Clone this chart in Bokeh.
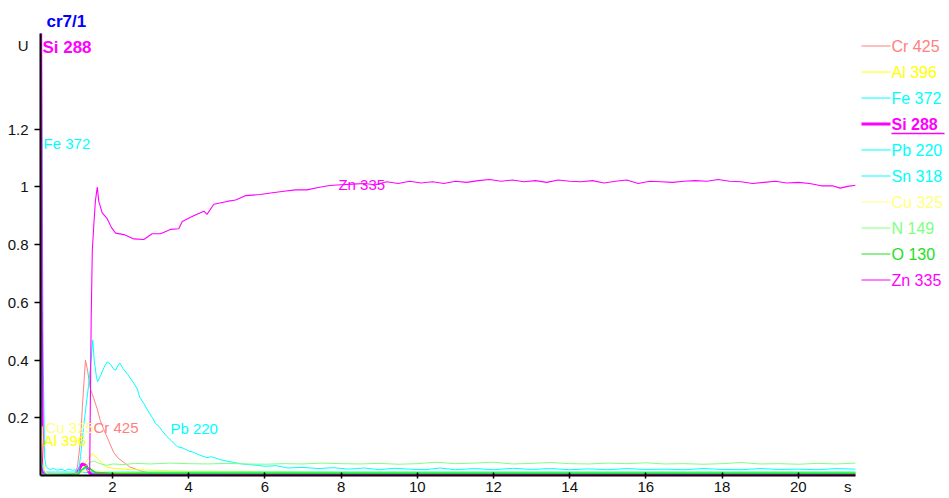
from bokeh.plotting import figure
from bokeh.models import Range1d, FixedTicker, Label
from bokeh.core.properties import value
from bokeh.embed import file_html
from bokeh.resources import INLINE

FONT = "Liberation Sans"

# ---- signal intensities (U) over time (s), one list of (t, u) pairs per line ----
cr_425 = [(0.11, 0.0), (0.5, 0.004), (1.0, 0.004), (1.08, 0.03), (1.16, 0.12), (1.21, 0.24),
          (1.25, 0.32), (1.29, 0.40), (1.35, 0.36), (1.42, 0.30), (1.50, 0.27), (1.60, 0.23),
          (1.68, 0.19), (1.77, 0.16), (1.90, 0.12), (2.03, 0.08), (2.15, 0.06), (2.30, 0.045),
          (2.45, 0.03), (2.65, 0.02), (2.85, 0.012), (3.10, 0.008), (4.0, 0.006), (8.0, 0.005),
          (14.0, 0.005), (21.5, 0.005)]

al_396 = [(0.11, 0.30), (0.14, 0.28), (0.17, 0.06), (0.22, 0.01), (0.5, 0.008), (1.0, 0.008),
          (1.2, 0.03), (1.35, 0.055), (1.47, 0.076), (1.6, 0.06), (1.72, 0.045), (1.82, 0.03),
          (2.0, 0.025), (2.5, 0.02), (4.0, 0.015), (8.0, 0.012), (14.0, 0.012), (21.5, 0.012)]

fe_372 = [(0.11, 0.9), (0.13, 1.6), (0.15, 1.15), (0.18, 0.4), (0.22, 0.06), (0.26, 0.03),
          (0.35, 0.02), (0.45, 0.025), (0.55, 0.018), (0.65, 0.022), (0.75, 0.017), (0.85, 0.022),
          (0.95, 0.018), (1.05, 0.02), (1.15, 0.012), (1.3, 0.01), (2.0, 0.01), (8.0, 0.01),
          (21.5, 0.01)]

si_288 = [(0.11, 1.9), (0.13, 0.6), (0.16, 0.02), (0.2, 0.003), (1.05, 0.003), (1.12, 0.02),
          (1.2, 0.04), (1.3, 0.035), (1.38, 0.012), (1.45, 0.003), (2.0, 0.003), (21.5, 0.003)]

pb_220 = [(0.11, 0.005), (1.10, 0.005), (1.16, 0.065), (1.25, 0.18), (1.37, 0.31), (1.44, 0.40),
          (1.48, 0.47), (1.52, 0.40), (1.58, 0.34), (1.61, 0.325), (1.70, 0.35), (1.78, 0.375),
          (1.86, 0.394), (1.95, 0.385), (2.02, 0.37), (2.08, 0.365), (2.14, 0.38), (2.19, 0.39),
          (2.28, 0.37), (2.40, 0.35), (2.56, 0.32), (2.65, 0.30), (2.72, 0.27), (2.82, 0.25),
          (2.95, 0.22), (3.05, 0.20), (3.13, 0.18), (3.22, 0.17), (3.30, 0.155), (3.43, 0.135),
          (3.55, 0.12), (3.70, 0.10), (3.85, 0.095), (4.00, 0.085), (4.13, 0.08), (4.30, 0.07),
          (4.48, 0.062), (4.60, 0.065), (4.83, 0.055), (5.00, 0.05), (5.20, 0.045), (5.40, 0.04),
          (5.6, 0.038), (5.8, 0.035), (6.0, 0.032), (6.3, 0.034), (6.6, 0.026), (7.0, 0.028),
          (7.4, 0.024), (7.8, 0.027), (8.2, 0.022), (8.6, 0.026), (9.0, 0.02), (9.4, 0.025),
          (9.8, 0.022), (10.2, 0.02), (10.6, 0.026), (11.0, 0.02), (11.5, 0.024), (12.0, 0.02),
          (12.5, 0.025), (13.0, 0.021), (13.5, 0.024), (14.0, 0.02), (14.5, 0.023), (15.0, 0.02),
          (15.5, 0.024), (16.0, 0.021), (16.5, 0.022), (17.0, 0.02), (17.5, 0.024), (18.0, 0.021),
          (18.5, 0.02), (19.0, 0.024), (19.5, 0.021), (20.0, 0.022), (20.5, 0.02), (21.0, 0.024),
          (21.5, 0.022)]

sn_318 = [(0.11, 0.5), (0.13, 0.05), (0.2, 0.012), (1.1, 0.012), (1.2, 0.02), (1.3, 0.025),
          (1.4, 0.015), (1.6, 0.012), (4.0, 0.012), (10.0, 0.012), (16.0, 0.012), (21.5, 0.012)]

cu_325 = [(0.11, 0.0), (0.15, 0.17), (0.2, 0.02), (0.3, 0.005), (1.0, 0.005), (1.3, 0.015),
          (1.5, 0.02), (1.8, 0.012), (3.0, 0.008), (21.5, 0.008)]

n_149 = [(0.11, 0.0), (1.1, 0.0), (1.2, 0.02), (1.3, 0.035), (1.4, 0.045), (1.5, 0.05),
         (1.6, 0.045), (1.7, 0.04), (1.85, 0.035), (2.0, 0.04), (2.3, 0.038), (2.6, 0.042),
         (3.0, 0.04), (3.5, 0.043), (4.0, 0.041), (4.5, 0.04), (5.0, 0.042), (5.5, 0.04),
         (6.0, 0.039), (6.5, 0.041), (7.0, 0.04), (7.5, 0.043), (8.0, 0.041), (8.5, 0.04),
         (9.0, 0.042), (9.5, 0.039), (10.0, 0.041), (10.5, 0.046), (11.0, 0.041), (11.5, 0.043),
         (12.0, 0.046), (12.5, 0.04), (13.0, 0.042), (13.5, 0.045), (14.0, 0.041), (14.5, 0.04),
         (15.0, 0.043), (15.5, 0.041), (16.0, 0.044), (16.5, 0.04), (17.0, 0.041), (17.5, 0.039),
         (18.0, 0.041), (18.5, 0.045), (19.0, 0.04), (19.5, 0.041), (20.0, 0.039), (20.5, 0.042),
         (21.0, 0.04), (21.5, 0.043)]

o_130 = [(0.11, 0.0), (1.1, 0.005), (1.2, 0.02), (1.3, 0.03), (1.4, 0.025), (1.55, 0.01),
         (2.0, 0.008), (6.0, 0.008), (12.0, 0.008), (21.5, 0.008)]

zn_335 = [(0.11, 0.0), (1.40, 0.0), (1.44, 0.54), (1.47, 0.78), (1.51, 0.87), (1.55, 0.95),
          (1.60, 1.00), (1.64, 0.95), (1.73, 0.91), (1.86, 0.89), (1.97, 0.86), (2.08, 0.84),
          (2.30, 0.835), (2.56, 0.82), (2.82, 0.818), (3.04, 0.838), (3.26, 0.838), (3.52, 0.853),
          (3.74, 0.855), (3.83, 0.88), (4.13, 0.90), (4.40, 0.916), (4.48, 0.905), (4.66, 0.94),
          (5.01, 0.95), (5.23, 0.955), (5.49, 0.97), (5.88, 0.974), (6.2, 0.98), (6.5, 0.985),
          (6.8, 0.99), (7.1, 0.99), (7.4, 0.998), (7.7, 1.005), (8.0, 1.008), (8.3, 1.01),
          (8.6, 1.012), (8.9, 1.008), (9.2, 1.018), (9.5, 1.012), (9.8, 1.02), (10.1, 1.014),
          (10.4, 1.018), (10.7, 1.012), (11.0, 1.02), (11.3, 1.016), (11.6, 1.022), (11.9, 1.026),
          (12.2, 1.02), (12.5, 1.024), (12.8, 1.018), (13.1, 1.022), (13.4, 1.016), (13.7, 1.024),
          (14.0, 1.02), (14.3, 1.018), (14.6, 1.022), (14.9, 1.014), (15.2, 1.02), (15.5, 1.024),
          (15.8, 1.012), (16.1, 1.02), (16.4, 1.018), (16.7, 1.016), (17.0, 1.02), (17.3, 1.022),
          (17.6, 1.02), (17.9, 1.026), (18.2, 1.02), (18.5, 1.018), (18.8, 1.012), (19.1, 1.016),
          (19.4, 1.02), (19.7, 1.014), (20.0, 1.016), (20.3, 1.012), (20.6, 1.004), (20.9, 1.004),
          (21.1, 0.996), (21.3, 1.002), (21.5, 1.006)]

# legend order, names and colours
series_names = ["Cr 425", "Al 396", "Fe 372", "Si 288", "Pb 220",
                "Sn 318", "Cu 325", "N 149", "O 130", "Zn 335"]
series_data = [cr_425, al_396, fe_372, si_288, pb_220, sn_318, cu_325, n_149, o_130, zn_335]
series_colors = ["#FF8080", "#FFFF00", "#00FFFF", "#FF00FF", "#00FFFF",
                 "#00FFFF", "#FFFF80", "#80FF80", "#22DD22", "#FF00FF"]
series_widths = [1, 1, 1, 3, 1, 1, 1, 1, 1.5, 1.1]

# on-curve name tags: (name, t, u)
curve_tags = [("Fe 372", 0.19, 1.15), ("Zn 335", 7.93, 1.009), ("Pb 220", 3.52, 0.163),
              ("Cu 325", 0.24, 0.166), ("Cr 425", 1.5, 0.166), ("Al 396", 0.19, 0.121)]

x_ticks = [2, 4, 6, 8, 10, 12, 14, 16, 18, 20]
y_ticks = [0.2, 0.4, 0.6, 0.8, 1, 1.2]
y_tick_labels = ["0.2", "0.4", "0.6", "0.8", "1", "1.2"]
x_unit, x_unit_at = "s", 21.3
y_unit, y_unit_at = "U", 1.49

T_MIN, T_MAX, U_MAX = 0.11, 21.5, 1.532

p = figure(width=949, height=498, output_backend="svg", toolbar_location=None,
           x_range=Range1d(T_MIN, 23.97), y_range=Range1d(0, U_MAX),
           min_border_left=40, min_border_right=0, min_border_top=33, min_border_bottom=23)
p.outline_line_color = None
p.grid.visible = False
p.background_fill_color = "white"
p.border_fill_color = "white"

# title in the top strip
p.title.text = "cr7/1"
p.title.align = "left"
p.title.offset = 6
p.title.standoff = 6
p.title.text_font = FONT
p.title.text_font_size = "17px"
p.title.text_font_style = "bold"
p.title.text_color = "#0000FF"

for ax in (p.xaxis[0], p.yaxis[0]):
    ax.axis_line_width = 2
    ax.axis_line_color = "black"
    ax.major_tick_in = 0
    ax.major_tick_out = 0
    ax.minor_tick_line_color = "black"
    ax.minor_tick_line_width = 1.5
    ax.major_label_text_font = FONT
    ax.major_label_text_font_size = "15px"
    ax.major_label_text_color = "#111111"

# labelled positions (numbers plus the unit) are major ticks; the tick marks are
# drawn as minor ticks so that the unit carries no mark
p.xaxis.ticker = FixedTicker(ticks=x_ticks + [x_unit_at], minor_ticks=x_ticks)
p.xaxis.major_label_overrides = {x_unit_at: x_unit}
p.xaxis.bounds = (T_MIN, T_MAX)
p.xaxis.minor_tick_in = 3
p.xaxis.minor_tick_out = 3
p.xaxis.major_label_standoff = -1

p.yaxis.ticker = FixedTicker(ticks=y_ticks + [y_unit_at], minor_ticks=y_ticks)
overrides = {t: s for t, s in zip(y_ticks, y_tick_labels)}
overrides[y_unit_at] = y_unit
p.yaxis.major_label_overrides = overrides
p.yaxis.minor_tick_in = 0
p.yaxis.minor_tick_out = 6
p.yaxis.major_label_standoff = 6

# element lines
for name, pts, col, w in zip(series_names, series_data, series_colors, series_widths):
    ts = [t for t, _ in pts]
    us = [u for _, u in pts]
    p.line(ts, us, line_color=col, line_width=w)

# tags on the curves
for name, t, u in curve_tags:
    col = series_colors[series_names.index(name)]
    p.add_layout(Label(x=t, y=u, text=name, text_color=col, text_font=FONT,
                       text_font_size="15px", text_baseline="middle"))

p.add_layout(Label(x=0.16, y=1.483, text="Si 288", text_color="#FF00FF", text_font=FONT,
                   text_font_size="17px", text_font_style="bold", text_baseline="middle"))

# key on the right: pixel x, one row per element (rows on half-pixel centres for crisp swatches)
p.extra_x_ranges = {"key": Range1d(40, 949)}
p.extra_y_ranges = {"key": Range1d(16.519, -0.4808)}
rows = list(range(len(series_names)))
p.segment(x0=[861] * len(rows), x1=[890] * len(rows), y0=rows, y1=rows,
          line_color=series_colors, line_width=[3 if w == 3 else 1 for w in series_widths],
          x_range_name="key", y_range_name="key")
plain = [i for i in rows if series_names[i] != "Si 288"]
p.text(x=[891] * len(plain), y=plain, text=[series_names[i] for i in plain],
       text_color=[series_colors[i] for i in plain], text_font=value(FONT),
       text_font_size="16px", text_baseline="middle",
       x_range_name="key", y_range_name="key")
si_row = series_names.index("Si 288")
p.text(x=[891], y=[si_row], text=["Si 288"], text_color="#FF00FF", text_font=value(FONT),
       text_font_size="16px", text_font_style="bold", text_baseline="middle",
       x_range_name="key", y_range_name="key")
p.segment(x0=[891], x1=[944], y0=[si_row + 0.37], y1=[si_row + 0.37], line_color="#FF00FF",
          line_width=1.5, x_range_name="key", y_range_name="key")

open("out.html", "w").write(file_html(p, INLINE))
